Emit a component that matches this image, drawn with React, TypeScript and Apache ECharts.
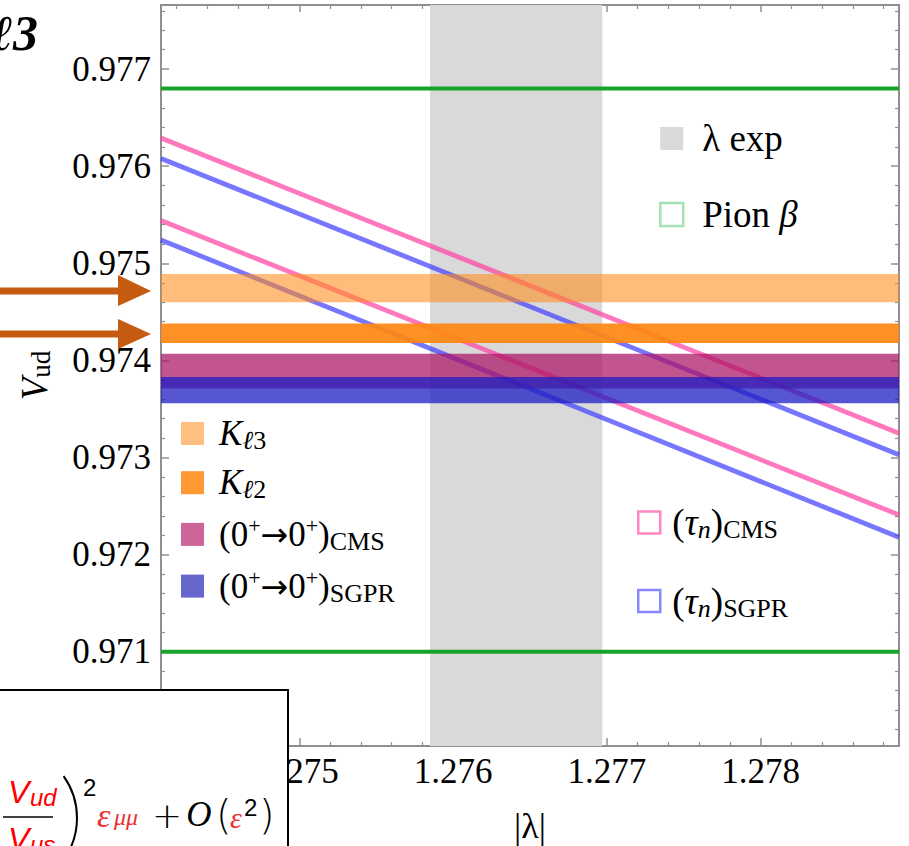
import React, { useEffect, useRef } from "react";
import * as echarts from "echarts";

// ---- data ----
const xRange = [1.2741, 1.2789];
const yRange = [0.97003, 0.97766];
const xTickValues = [1.275, 1.276, 1.277, 1.278];
const yTickValues = [0.971, 0.972, 0.973, 0.974, 0.975, 0.976, 0.977];
const lambdaExpBand = [1.27585, 1.27697];
const pionBetaLines = [0.9768, 0.971];
const kl3Band = [0.9746, 0.97489];
const kl2Band = [0.97418, 0.97438];
const cmsBand = [0.97371, 0.97407];
const sgprBand = [0.97356, 0.97383];
const lineX = [1.2741, 1.2789];
const tauCmsUpper = [0.97629, 0.97325];
const tauCmsLower = [0.97544, 0.97241];
const tauSgprUpper = [0.97608, 0.97303];
const tauSgprLower = [0.97524, 0.97218];

const SERIF_F = "Liberation Serif";
const SERIF = '"Liberation Serif", "Times New Roman", serif';
const SANS = '"Liberation Sans", Arial, sans-serif';
const FRAME = "#8f8f8f";

const N_LAMBDA = "λ exp";
const N_PION = "Pion β";
const N_KL3 = "Kℓ3";
const N_KL2 = "Kℓ2";
const N_CMS = "(0⁺→0⁺)CMS";
const N_SGPR = "(0⁺→0⁺)SGPR";
const N_TCMS = "(τn)CMS";
const N_TSGPR = "(τn)SGPR";

const legendRich: Record<string, string> = {
  [N_LAMBDA]: "{g| }{r|λ exp}",
  [N_PION]: "{g| }{r|Pion }{i|β}",
  [N_KL3]: "{g| }{i|K}{si|ℓ}{s|3}",
  [N_KL2]: "{g| }{i|K}{si|ℓ}{s|2}",
  [N_CMS]: "{g| }{r|(0}{p|+}{a|→}{r|0}{p|+}{r|)}{s|CMS}",
  [N_SGPR]: "{g| }{r|(0}{p|+}{a|→}{r|0}{p|+}{r|)}{s|SGPR}",
  [N_TCMS]: "{g| }{r|(}{i|τ}{si|n}{r|)}{s|CMS}",
  [N_TSGPR]: "{g| }{r|(}{i|τ}{si|n}{r|)}{s|SGPR}",
};

const makeRich = (gap: number, fs: number) => ({
  g: { width: gap, fontSize: fs, lineHeight: 40, fontFamily: SERIF_F },
  r: { fontSize: fs, lineHeight: 40, fontFamily: SERIF_F, color: "#000" },
  i: { fontSize: fs, lineHeight: 40, fontFamily: SERIF_F, fontStyle: "italic", color: "#000" },
  a: { fontSize: 33, lineHeight: 40, fontFamily: "DejaVu Sans", color: "#000" },
  s: { fontSize: 26, lineHeight: 30, fontFamily: SERIF_F, verticalAlign: "bottom", color: "#000" },
  si: { fontSize: 26, lineHeight: 30, fontFamily: SERIF_F, fontStyle: "italic", verticalAlign: "bottom", color: "#000" },
  p: { fontSize: 22, lineHeight: 22, fontFamily: SERIF_F, verticalAlign: "top", color: "#000" },
});

const makeLegend = (names: any[], left: number, top: number, size: number, gap: number, textGap: number, fs: number) => ({
  data: names,
  orient: "vertical",
  left,
  top,
  padding: 0,
  itemWidth: size,
  itemHeight: size,
  itemGap: gap,
  selectedMode: false,
  formatter: (n: string) => legendRich[n] || n,
  textStyle: { fontFamily: SERIF_F, fontSize: fs, rich: makeRich(textGap, fs) },
});

const band = (name: string, range: number[], color: string, z: number) => ({
  name,
  type: "line",
  data: [],
  z,
  silent: true,
  itemStyle: { color },
  markArea: {
    silent: true,
    z,
    itemStyle: { color },
    data: [[{ yAxis: range[0] }, { yAxis: range[1] }]],
  },
});

const straight = (name: string, ys: number[], color: string, width: number, opacity: number, z: number) => ({
  name,
  type: "line",
  z,
  silent: true,
  symbol: "none",
  data: lineX.map((x, i) => [x, ys[i]]),
  lineStyle: { color, width, opacity },
  itemStyle: { color },
});

const axisCommon = {
  type: "value",
  axisLine: { show: true, onZero: false, lineStyle: { color: FRAME, width: 2 } },
  splitLine: { show: false },
  minorTick: { show: true, splitNumber: 5, length: 4, lineStyle: { color: FRAME, width: 1.2 } },
};

const t = (text: string, x: number, y: number, font: string, fill = "#000", align = "left") => ({
  type: "text",
  x,
  y,
  z: 102,
  silent: true,
  style: { text, font, fill, textAlign: align, textVerticalAlign: "middle" },
});

export default function App() {
  const ref = useRef<HTMLDivElement>(null);
  useEffect(() => {
    if (!ref.current) return;
    const chart = echarts.init(ref.current, undefined, { renderer: "svg" });
    const option: any = {
      animation: false,
      backgroundColor: "#fff",
      textStyle: { fontFamily: SERIF_F },
      grid: { left: 161, right: 10, top: 5, bottom: 100, outerBoundsMode: "none", containLabel: false },
      xAxis: [
        {
          ...axisCommon,
          position: "bottom",
          min: xRange[0],
          max: xRange[1],
          splitNumber: 5,
          axisTick: { inside: true, length: 8, customValues: xTickValues, lineStyle: { color: FRAME, width: 1.5 } },
          axisLabel: {
            customValues: xTickValues,
            formatter: (v: number) => v.toFixed(3),
            color: "#000",
            fontFamily: SERIF_F,
            fontSize: 35,
            lineHeight: 40,
            margin: 5,
          },
          name: "|λ|",
          nameLocation: "middle",
          nameGap: 60,
          nameTextStyle: { fontFamily: SERIF_F, fontSize: 36, lineHeight: 40, color: "#000" },
        },
        {
          ...axisCommon,
          position: "top",
          min: xRange[0],
          max: xRange[1],
          splitNumber: 5,
          axisTick: { inside: true, length: 7, customValues: xTickValues, lineStyle: { color: FRAME, width: 1.5 } },
          axisLabel: { show: false },
        },
      ],
      yAxis: [
        {
          ...axisCommon,
          position: "left",
          min: yRange[0],
          max: yRange[1],
          splitNumber: 8,
          axisTick: { inside: true, length: 8, customValues: yTickValues, lineStyle: { color: FRAME, width: 1.5 } },
          axisLabel: {
            customValues: yTickValues,
            formatter: (v: number) => v.toFixed(3),
            color: "#000",
            fontFamily: SERIF_F,
            fontSize: 35,
            lineHeight: 40,
            margin: 10,
          },
          name: "{v|V}{s|ud}",
          nameLocation: "middle",
          nameRotate: 90,
          nameGap: 107,
          nameTextStyle: {
            fontFamily: SERIF_F,
            rich: {
              v: { fontFamily: SERIF_F, fontStyle: "italic", fontSize: 37, lineHeight: 40, color: "#000" },
              s: { fontFamily: SERIF_F, fontSize: 27, lineHeight: 32, verticalAlign: "bottom", color: "#000" },
            },
          },
        },
        {
          ...axisCommon,
          position: "right",
          min: yRange[0],
          max: yRange[1],
          splitNumber: 8,
          axisTick: { inside: true, length: 8, customValues: yTickValues, lineStyle: { color: FRAME, width: 1.5 } },
          axisLabel: { show: false },
        },
      ],
      legend: [
        makeLegend(
          [
            { name: N_LAMBDA, icon: "rect", itemStyle: { color: "#d9d9d9", borderWidth: 0 } },
            { name: N_PION, icon: "rect", itemStyle: { color: "rgba(0,0,0,0)", borderColor: "#a8e0b4", borderWidth: 2.5 } },
          ],
          659,
          120,
          23,
          39,
          14,
          37
        ),
        makeLegend(
          [
            { name: N_KL3, icon: "rect", itemStyle: { color: "#ffbf80", borderWidth: 0 } },
            { name: N_KL2, icon: "rect", itemStyle: { color: "#ff9933", borderWidth: 0 } },
            { name: N_CMS, icon: "rect", itemStyle: { color: "#cc6699", borderWidth: 0 } },
            { name: N_SGPR, icon: "rect", itemStyle: { color: "#6666cc", borderWidth: 0 } },
          ],
          181,
          416,
          23,
          11.7,
          10,
          35
        ),
        makeLegend(
          [
            { name: N_TCMS, icon: "rect", itemStyle: { color: "rgba(0,0,0,0)", borderColor: "#ff88c4", borderWidth: 2.5 } },
            { name: N_TSGPR, icon: "rect", itemStyle: { color: "rgba(0,0,0,0)", borderColor: "#8888ff", borderWidth: 2.5 } },
          ],
          637,
          504,
          22,
          40,
          7,
          37
        ),
      ],
      series: [
        {
          name: N_LAMBDA,
          type: "line",
          data: [],
          z: 1,
          silent: true,
          itemStyle: { color: "#d9d9d9" },
          markArea: {
            silent: true,
            z: 1,
            itemStyle: { color: "#d9d9d9" },
            data: [[{ xAxis: lambdaExpBand[0] }, { xAxis: lambdaExpBand[1] }]],
          },
        },
        straight(N_TCMS, tauCmsUpper, "#ff3da0", 4.8, 0.7, 2),
        straight(N_TCMS, tauCmsLower, "#ff3da0", 4.8, 0.7, 2),
        straight(N_TSGPR, tauSgprUpper, "#3c3cff", 4.8, 0.7, 2),
        straight(N_TSGPR, tauSgprLower, "#3c3cff", 4.8, 0.7, 2),
        band(N_KL3, kl3Band, "rgba(255,140,26,0.58)", 3),
        band(N_KL2, kl2Band, "rgba(255,136,17,0.92)", 3),
        band(N_CMS, cmsBand, "rgba(170,20,100,0.72)", 4),
        band(N_SGPR, sgprBand, "rgba(30,30,195,0.75)", 5),
        straight(N_PION, [pionBetaLines[0], pionBetaLines[0]], "#17a327", 4, 1, 6),
        straight(N_PION, [pionBetaLines[1], pionBetaLines[1]], "#17a327", 4, 1, 6),
      ],
      graphic: [
        // title fragment
        t("ℓ3", 38, 33, `italic bold 50px ${SERIF}`, "#000", "right"),
        // arrows
        { type: "line", z: 101, silent: true, shape: { x1: -5, y1: 291, x2: 122, y2: 291 }, style: { stroke: "#c55a11", lineWidth: 7 } },
        { type: "polygon", z: 101, silent: true, shape: { points: [[118, 275], [151, 291], [118, 306]] }, style: { fill: "#c55a11" } },
        { type: "line", z: 101, silent: true, shape: { x1: -5, y1: 334, x2: 122, y2: 334 }, style: { stroke: "#c55a11", lineWidth: 7 } },
        { type: "polygon", z: 101, silent: true, shape: { points: [[118, 319], [151, 334], [118, 349]] }, style: { fill: "#c55a11" } },
        // formula box
        { type: "rect", z: 100, silent: true, shape: { x: -5, y: 690, width: 293, height: 200 }, style: { fill: "#fff", stroke: "#000", lineWidth: 2 } },
        t("V", 8, 792, `italic 32px ${SANS}`, "#ff0000"),
        t("ud", 30, 797, `italic 24px ${SANS}`, "#ff0000"),
        { type: "line", z: 102, silent: true, shape: { x1: 3, y1: 817, x2: 53, y2: 817 }, style: { stroke: "#000", lineWidth: 1.6 } },
        t("V", 8, 839, `italic 32px ${SANS}`, "#ff0000"),
        t("us", 30, 844, `italic 24px ${SANS}`, "#ff0000"),
        { type: "arc", z: 102, silent: true, shape: { cx: 5, cy: 818, r: 72, startAngle: -0.62, endAngle: 0.62 }, style: { stroke: "#000", lineWidth: 2, fill: "none" } },
        t("2", 83, 787, `24px ${SANS}`),
        t("ε", 97, 815, `italic 34px ${SERIF}`, "#f03030"),
        t("μμ", 114, 817, `italic 24px ${SERIF}`, "#f03030"),
        t("+", 167, 815, `200 36px "DejaVu Sans", ${SANS}`, "#000", "center"),
        t("O", 199, 814, `italic 35px ${SERIF}`, "#000", "center"),
        t("(", 216, 815, `200 40px "DejaVu Sans", ${SANS}`),
        t("ε", 230, 817, `italic 30px ${SERIF}`, "#f03030"),
        t("2", 244, 807, `24px ${SANS}`),
        t(")", 259, 815, `200 40px "DejaVu Sans", ${SANS}`),
      ],
    };
    chart.setOption(option);
    return () => chart.dispose();
  }, []);
  return <div ref={ref} style={{ position: "absolute", left: 0, top: 0, width: 909, height: 846 }} />;
}
